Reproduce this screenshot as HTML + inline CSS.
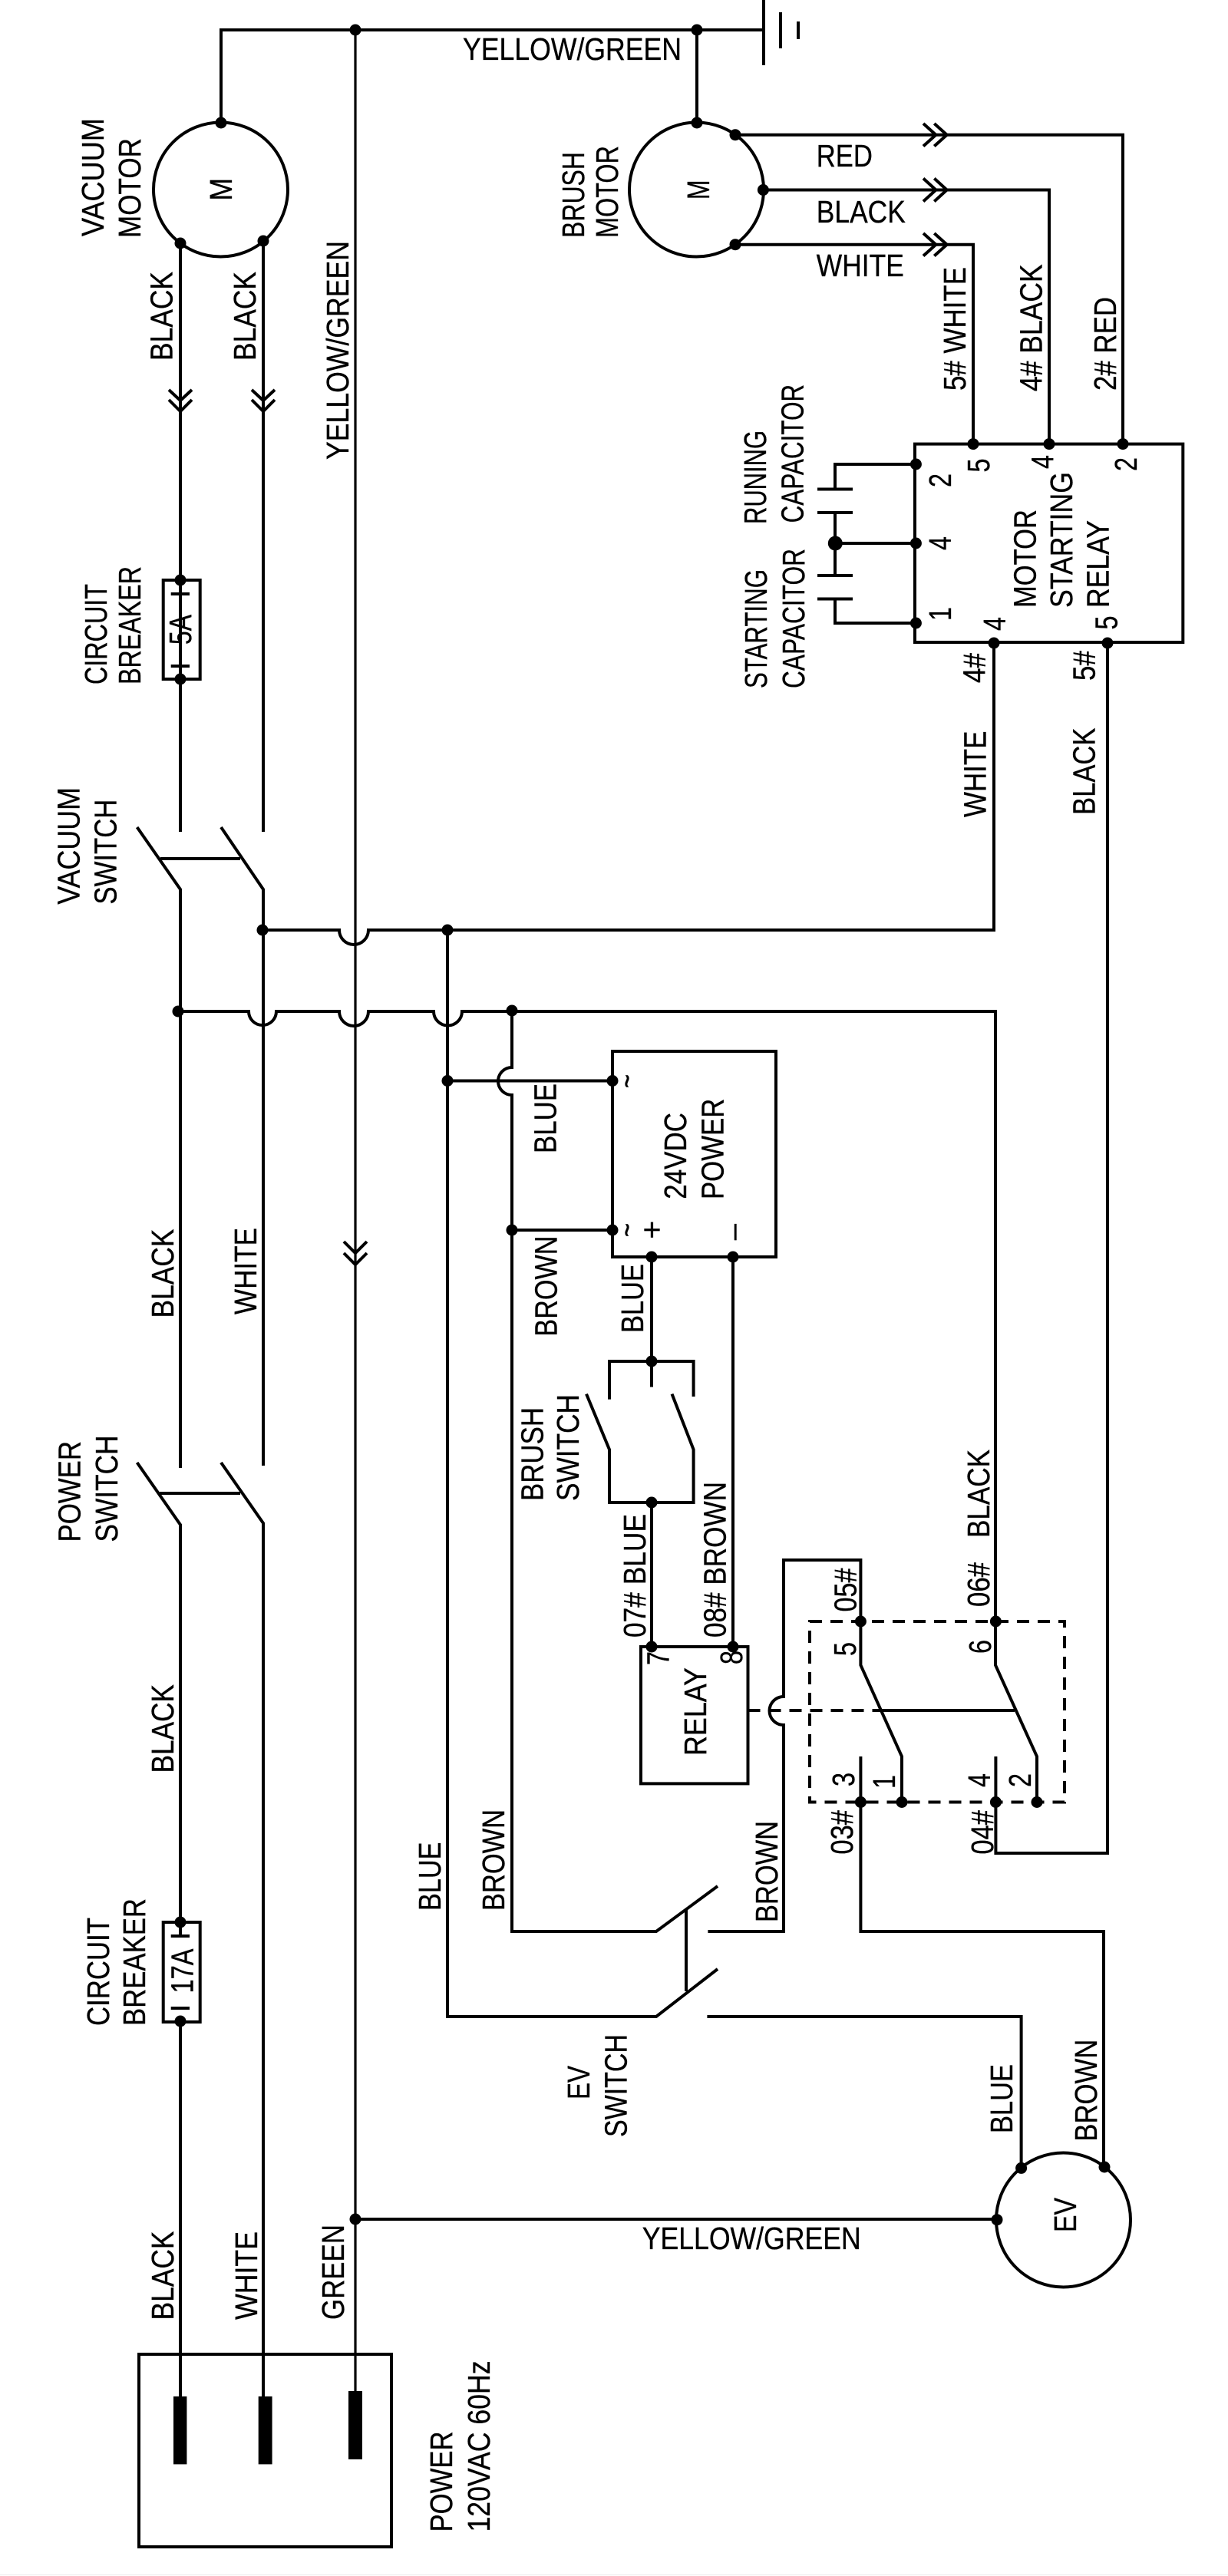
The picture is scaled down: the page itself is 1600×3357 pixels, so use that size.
<!DOCTYPE html>
<html><head><meta charset="utf-8"><style>
html,body{margin:0;padding:0;background:#fff}
svg{display:block}
text{font-family:"Liberation Sans",sans-serif;font-size:41px;fill:#000;stroke:#000;stroke-width:.35}
.w{fill:none;stroke:#000;stroke-width:4;stroke-linejoin:miter}
.t{stroke-width:3.2}
</style></head><body>
<svg width="1600" height="3357" viewBox="0 0 1600 3357" xmlns="http://www.w3.org/2000/svg">
<rect width="1600" height="3357" fill="#fff"/>
<path d="M0 3355.5H1600" stroke="#eee" stroke-width="1"/>
<g class="w">
<!-- ground and top -->
<path d="M288 160V39H995M995 0V85"/>
<path d="M1017 16V63" /><path d="M1040 28V51"/>
<path class="t" d="M463 39V3116"/>
<path d="M908 39V160"/>
<!-- motors -->
<circle cx="287.5" cy="247" r="87.5"/><circle cx="907.5" cy="247" r="87.5"/><circle cx="1385.5" cy="2893" r="87.5"/>
<!-- vacuum motor wires -->
<path d="M235 317V1084M343 314V1084"/>
<path d="M220 508L235 522L250 508M220 521L235 536L250 521"/>
<path d="M328 508L343 522L358 508M328 521L343 536L358 521"/>
<!-- fuse 1 -->
<rect x="212.7" y="756" width="48" height="129"/>
<path d="M235 756V774M222.7 774H247M222.7 868H247M235 868V885"/>
<!-- vacuum switch -->
<path d="M178.6 1078L235 1159V1913M288 1078L343 1159V1910M209 1119H313"/>
<!-- power switch -->
<path d="M178.6 1906L235 1987V2505M288 1906L343 1985V3123M208 1946H313"/>
<!-- fuse 2 -->
<rect x="212.7" y="2505" width="48" height="130"/>
<path d="M235 2505V2523M222.7 2523H247M222.7 2617H247M235 2635V3123"/>
<!-- chevrons yellow -->
<path d="M448 1618L463 1633L478 1618M448 1633L463 1648L478 1633"/>
<!-- white bus -->
<path d="M342 1212H442A19 19 0 0 0 480 1212H1295V838"/>
<path d="M583 1212V2628H855L935 2566"/>
<!-- black bus -->
<path d="M235 1318H324A18 18 0 0 0 360 1318H442A19 19 0 0 0 480 1318H565A18.5 18.5 0 0 0 602 1318H1297V2170L1351 2289V2348.5"/>
<!-- blue/brown to 24V -->
<path d="M667 1317V1391A18 18 0 0 0 667 1427V2517H855L935 2458"/>
<path d="M583 1408.5H798M667 1603H798"/>
<path d="M894 2489V2595"/>
<!-- 24VDC -->
<rect x="798" y="1370" width="213" height="268"/>
<path d="M849 1638V1807.5M794 1823.6V1774H903.6V1820"/>
<path d="M764 1816.6L794 1889V1958H903.6V1889L875.5 1816.6"/>
<path d="M849 1958V2146M955 1638V2146"/>
<!-- relay -->
<rect x="835" y="2146" width="139.5" height="178.4"/>
<!-- brown loop -->
<path d="M922.4 2517H1021V2248A18.5 18.5 0 0 1 1021 2211V2033H1121.4V2170L1175 2289V2348.5"/>
<path d="M1121.4 2289V2517H1438V2824"/>
<path d="M1297.4 2289V2415H1443V838"/>
<path d="M921.4 2628H1330.6V2825"/>
<path d="M1147 2229H1322"/>
<path d="M974.5 2229H1147" stroke-dasharray="16 11"/>
<rect x="1055" y="2113" width="332" height="235.5" stroke-dasharray="16 11"/>
<!-- yellow EV -->
<path d="M463 2892H1299"/>
<!-- plug -->
<rect x="181" y="3068" width="329" height="251"/>
<!-- brush motor wires -->
<path d="M958 175.7H1233.7H1463V578.6M994 247.5H1367V578.6M958 318.7H1268V578.6"/>
<path d="M1203 161L1219.4 175.7L1203 190.5M1217.3 161L1233.7 175.7L1217.3 190.5"/>
<path d="M1203 232.5L1219.4 247.5L1203 262.5M1217.3 232.5L1233.7 247.5L1217.3 262.5"/>
<path d="M1203 304L1219.4 318.7L1203 333.5M1217.3 304L1233.7 318.7L1217.3 333.5"/>
<!-- motor starting relay -->
<rect x="1192" y="578.6" width="349.3" height="258.4"/>
<!-- capacitors -->
<path d="M1193 605H1088V637.5M1065 637.5H1111M1065 668H1111M1088 668V750M1065 750H1111M1065 780.5H1111M1088 780.5V812H1193M1088 708H1193"/>
</g>
<g fill="#000">
<rect x="226" y="3123" width="17.4" height="88.4"/><rect x="336.7" y="3123" width="17.9" height="88.4"/><rect x="454" y="3116" width="18" height="89"/>
<circle cx="463" cy="39" r="7.5"/><circle cx="908" cy="39" r="7.5"/>
<circle cx="288" cy="160" r="7.5"/><circle cx="235" cy="317" r="7.5"/><circle cx="343" cy="314" r="7.5"/>
<circle cx="235" cy="756" r="7.5"/><circle cx="235" cy="885" r="7.5"/>
<circle cx="342" cy="1212" r="7.5"/><circle cx="583" cy="1212" r="7.5"/><circle cx="232" cy="1318" r="7.5"/><circle cx="667" cy="1317" r="7.5"/>
<circle cx="583" cy="1408.5" r="7.5"/><circle cx="798" cy="1408.5" r="7.5"/><circle cx="667" cy="1603" r="7.5"/><circle cx="798" cy="1603" r="7.5"/>
<circle cx="849" cy="1638" r="7.5"/><circle cx="955" cy="1638" r="7.5"/><circle cx="849" cy="1774" r="7.5"/><circle cx="849" cy="1958" r="7.5"/>
<circle cx="849" cy="2146" r="7.5"/><circle cx="955" cy="2146" r="7.5"/>
<circle cx="1121.4" cy="2113" r="7.5"/><circle cx="1297.4" cy="2113" r="7.5"/><circle cx="1121.4" cy="2348.5" r="7.5"/><circle cx="1175" cy="2348.5" r="7.5"/><circle cx="1297.4" cy="2348.5" r="7.5"/><circle cx="1351" cy="2348.5" r="7.5"/>
<circle cx="235" cy="2505" r="7.5"/><circle cx="235" cy="2634" r="7.5"/><circle cx="463" cy="2892" r="7.5"/>
<circle cx="1299" cy="2892.7" r="7.5"/><circle cx="1330.6" cy="2825.4" r="7.5"/><circle cx="1439" cy="2824" r="7.5"/>
<circle cx="908" cy="160" r="7.5"/><circle cx="958" cy="175.7" r="7.5"/><circle cx="994.4" cy="247.5" r="7.5"/><circle cx="958" cy="318.7" r="7.5"/>
<circle cx="1268" cy="578.6" r="7.5"/><circle cx="1367" cy="578.6" r="7.5"/><circle cx="1463" cy="578.6" r="7.5"/>
<circle cx="1193.4" cy="605" r="7.5"/><circle cx="1193.4" cy="708" r="7.5"/><circle cx="1193.4" cy="812" r="7.5"/><circle cx="1088.3" cy="708" r="9.5"/>
<circle cx="1295" cy="838" r="7.5"/><circle cx="1443" cy="838" r="7.5"/>
</g>
<g>
<!-- horizontal labels -->
<text x="603" y="78" textLength="285" lengthAdjust="spacingAndGlyphs">YELLOW/GREEN</text>
<text x="1063.8" y="217" textLength="73" lengthAdjust="spacingAndGlyphs">RED</text>
<text x="1063.8" y="289.8" textLength="116" lengthAdjust="spacingAndGlyphs">BLACK</text>
<text x="1063.8" y="360" textLength="114" lengthAdjust="spacingAndGlyphs">WHITE</text>
<text x="836.7" y="2931" textLength="285" lengthAdjust="spacingAndGlyphs">YELLOW/GREEN</text>
<!-- vertical labels -->
<text transform="translate(135,308) rotate(-90)" textLength="154" lengthAdjust="spacingAndGlyphs">VACUUM</text>
<text transform="translate(183,310) rotate(-90)" textLength="130" lengthAdjust="spacingAndGlyphs">MOTOR</text>
<text transform="translate(302,261.5) rotate(-90)" textLength="29.5" lengthAdjust="spacingAndGlyphs">M</text>
<text transform="translate(224.5,470) rotate(-90)" textLength="116" lengthAdjust="spacingAndGlyphs">BLACK</text>
<text transform="translate(333,470) rotate(-90)" textLength="116" lengthAdjust="spacingAndGlyphs">BLACK</text>
<text transform="translate(454,599) rotate(-90)" textLength="285" lengthAdjust="spacingAndGlyphs">YELLOW/GREEN</text>
<text transform="translate(761,310) rotate(-90)" textLength="112" lengthAdjust="spacingAndGlyphs">BRUSH</text>
<text transform="translate(805,310) rotate(-90)" textLength="120" lengthAdjust="spacingAndGlyphs">MOTOR</text>
<text transform="translate(924,260) rotate(-90)" textLength="25.5" lengthAdjust="spacingAndGlyphs">M</text>
<text transform="translate(249,840) rotate(-90)" textLength="39" lengthAdjust="spacingAndGlyphs">5A</text>
<text transform="translate(139,892) rotate(-90)" textLength="131" lengthAdjust="spacingAndGlyphs">CIRCUIT</text>
<text transform="translate(183,892) rotate(-90)" textLength="154" lengthAdjust="spacingAndGlyphs">BREAKER</text>
<text transform="translate(103.5,1178.6) rotate(-90)" textLength="152.6" lengthAdjust="spacingAndGlyphs">VACUUM</text>
<text transform="translate(151.5,1178.6) rotate(-90)" textLength="137" lengthAdjust="spacingAndGlyphs">SWITCH</text>
<text transform="translate(104.6,2009.5) rotate(-90)" textLength="131.5" lengthAdjust="spacingAndGlyphs">POWER</text>
<text transform="translate(153,2009.5) rotate(-90)" textLength="139" lengthAdjust="spacingAndGlyphs">SWITCH</text>
<text transform="translate(226,1717.5) rotate(-90)" textLength="116" lengthAdjust="spacingAndGlyphs">BLACK</text>
<text transform="translate(334,1713) rotate(-90)" textLength="113" lengthAdjust="spacingAndGlyphs">WHITE</text>
<text transform="translate(226,2310.5) rotate(-90)" textLength="115.5" lengthAdjust="spacingAndGlyphs">BLACK</text>
<text transform="translate(574,2490) rotate(-90)" textLength="89.5" lengthAdjust="spacingAndGlyphs">BLUE</text>
<text transform="translate(657,2490) rotate(-90)" textLength="132" lengthAdjust="spacingAndGlyphs">BROWN</text>
<text transform="translate(707.6,1956) rotate(-90)" textLength="122" lengthAdjust="spacingAndGlyphs">BRUSH</text>
<text transform="translate(754,1956) rotate(-90)" textLength="139" lengthAdjust="spacingAndGlyphs">SWITCH</text>
<text transform="translate(724.5,1503) rotate(-90)" textLength="91" lengthAdjust="spacingAndGlyphs">BLUE</text>
<text transform="translate(725.5,1741.6) rotate(-90)" textLength="131" lengthAdjust="spacingAndGlyphs">BROWN</text>
<text transform="translate(894,1562.7) rotate(-90)" textLength="112.7" lengthAdjust="spacingAndGlyphs">24VDC</text>
<text transform="translate(942.3,1563) rotate(-90)" textLength="131.3" lengthAdjust="spacingAndGlyphs">POWER</text>
<text transform="translate(830.5,1418) rotate(-90)" textLength="18" lengthAdjust="spacingAndGlyphs">~</text>
<text transform="translate(830.5,1612) rotate(-90)" textLength="18" lengthAdjust="spacingAndGlyphs">~</text>
<text transform="translate(863,1602.7) rotate(-90)" text-anchor="middle">+</text>
<text transform="translate(968,1605.5) rotate(-90)" text-anchor="middle" style="font-size:38px">–</text>
<text transform="translate(871.4,2170) rotate(-90)" textLength="18" lengthAdjust="spacingAndGlyphs">7</text>
<text transform="translate(967,2169) rotate(-90)" textLength="18" lengthAdjust="spacingAndGlyphs">8</text>
<text transform="translate(920,2288) rotate(-90)" textLength="115" lengthAdjust="spacingAndGlyphs">RELAY</text>
<text transform="translate(841,2134) rotate(-90)" textLength="161" lengthAdjust="spacingAndGlyphs">07# BLUE</text>
<text transform="translate(945.4,2134) rotate(-90)" textLength="203" lengthAdjust="spacingAndGlyphs">08# BROWN</text>
<text transform="translate(838,1737) rotate(-90)" textLength="90" lengthAdjust="spacingAndGlyphs">BLUE</text>
<text transform="translate(1115.3,2100.5) rotate(-90)" textLength="57" lengthAdjust="spacingAndGlyphs">05#</text>
<text transform="translate(1115,2158) rotate(-90)" textLength="18" lengthAdjust="spacingAndGlyphs">5</text>
<text transform="translate(1288.8,2094) rotate(-90)" textLength="58" lengthAdjust="spacingAndGlyphs">06#</text>
<text transform="translate(1288.8,2004) rotate(-90)" textLength="115" lengthAdjust="spacingAndGlyphs">BLACK</text>
<text transform="translate(1290.8,2155) rotate(-90)" textLength="18" lengthAdjust="spacingAndGlyphs">6</text>
<text transform="translate(1112.8,2328) rotate(-90)" textLength="18" lengthAdjust="spacingAndGlyphs">3</text>
<text transform="translate(1166,2331) rotate(-90)" textLength="18" lengthAdjust="spacingAndGlyphs">1</text>
<text transform="translate(1290,2329) rotate(-90)" textLength="18" lengthAdjust="spacingAndGlyphs">4</text>
<text transform="translate(1343,2329) rotate(-90)" textLength="18" lengthAdjust="spacingAndGlyphs">2</text>
<text transform="translate(1111,2416.6) rotate(-90)" textLength="57.6" lengthAdjust="spacingAndGlyphs">03#</text>
<text transform="translate(1294,2416.6) rotate(-90)" textLength="57.6" lengthAdjust="spacingAndGlyphs">04#</text>
<text transform="translate(1013,2505) rotate(-90)" textLength="132" lengthAdjust="spacingAndGlyphs">BROWN</text>
<text transform="translate(1402,2909) rotate(-90)" textLength="45" lengthAdjust="spacingAndGlyphs">EV</text>
<text transform="translate(1319,2780) rotate(-90)" textLength="90" lengthAdjust="spacingAndGlyphs">BLUE</text>
<text transform="translate(1429,2790.7) rotate(-90)" textLength="133" lengthAdjust="spacingAndGlyphs">BROWN</text>
<text transform="translate(768,2736) rotate(-90)" textLength="44" lengthAdjust="spacingAndGlyphs">EV</text>
<text transform="translate(816.3,2785) rotate(-90)" textLength="134" lengthAdjust="spacingAndGlyphs">SWITCH</text>
<text transform="translate(251.5,2597.5) rotate(-90)" textLength="58" lengthAdjust="spacingAndGlyphs">17A</text>
<text transform="translate(142,2640) rotate(-90)" textLength="141" lengthAdjust="spacingAndGlyphs">CIRCUIT</text>
<text transform="translate(189,2640) rotate(-90)" textLength="166" lengthAdjust="spacingAndGlyphs">BREAKER</text>
<text transform="translate(226,3023.5) rotate(-90)" textLength="116" lengthAdjust="spacingAndGlyphs">BLACK</text>
<text transform="translate(335,3023) rotate(-90)" textLength="115" lengthAdjust="spacingAndGlyphs">WHITE</text>
<text transform="translate(448,3023) rotate(-90)" textLength="124" lengthAdjust="spacingAndGlyphs">GREEN</text>
<text transform="translate(589,3299.5) rotate(-90)" textLength="131" lengthAdjust="spacingAndGlyphs">POWER</text>
<text transform="translate(638,3299.5) rotate(-90)" textLength="223" lengthAdjust="spacingAndGlyphs">120VAC 60Hz</text>
<text transform="translate(1258,509) rotate(-90)" textLength="161" lengthAdjust="spacingAndGlyphs">5# WHITE</text>
<text transform="translate(1357.7,510) rotate(-90)" textLength="165.6" lengthAdjust="spacingAndGlyphs">4# BLACK</text>
<text transform="translate(1454,509) rotate(-90)" textLength="122" lengthAdjust="spacingAndGlyphs">2# RED</text>
<text transform="translate(1288.8,615.5) rotate(-90)" textLength="18" lengthAdjust="spacingAndGlyphs">5</text>
<text transform="translate(1372.4,611) rotate(-90)" textLength="18" lengthAdjust="spacingAndGlyphs">4</text>
<text transform="translate(1481,614) rotate(-90)" textLength="18" lengthAdjust="spacingAndGlyphs">2</text>
<text transform="translate(1238.8,635) rotate(-90)" textLength="18" lengthAdjust="spacingAndGlyphs">2</text>
<text transform="translate(1238.8,717) rotate(-90)" textLength="18" lengthAdjust="spacingAndGlyphs">4</text>
<text transform="translate(1238.8,809) rotate(-90)" textLength="18" lengthAdjust="spacingAndGlyphs">1</text>
<text transform="translate(1349.5,792) rotate(-90)" textLength="128" lengthAdjust="spacingAndGlyphs">MOTOR</text>
<text transform="translate(1397,792) rotate(-90)" textLength="177" lengthAdjust="spacingAndGlyphs">STARTING</text>
<text transform="translate(1444.4,792) rotate(-90)" textLength="114" lengthAdjust="spacingAndGlyphs">RELAY</text>
<text transform="translate(1310,822) rotate(-90)" textLength="18" lengthAdjust="spacingAndGlyphs">4</text>
<text transform="translate(1455.6,820.5) rotate(-90)" textLength="18" lengthAdjust="spacingAndGlyphs">5</text>
<text transform="translate(998,683) rotate(-90)" textLength="122" lengthAdjust="spacingAndGlyphs">RUNING</text>
<text transform="translate(1046.4,681.4) rotate(-90)" textLength="180.5" lengthAdjust="spacingAndGlyphs">CAPACITOR</text>
<text transform="translate(999,897) rotate(-90)" textLength="155" lengthAdjust="spacingAndGlyphs">STARTING</text>
<text transform="translate(1048,897) rotate(-90)" textLength="182" lengthAdjust="spacingAndGlyphs">CAPACITOR</text>
<text transform="translate(1283.7,890) rotate(-90)" textLength="39" lengthAdjust="spacingAndGlyphs">4#</text>
<text transform="translate(1426.5,887) rotate(-90)" textLength="39" lengthAdjust="spacingAndGlyphs">5#</text>
<text transform="translate(1284.7,1065) rotate(-90)" textLength="112.5" lengthAdjust="spacingAndGlyphs">WHITE</text>
<text transform="translate(1426.5,1062) rotate(-90)" textLength="113.5" lengthAdjust="spacingAndGlyphs">BLACK</text>
</g>
</svg>
</body></html>
